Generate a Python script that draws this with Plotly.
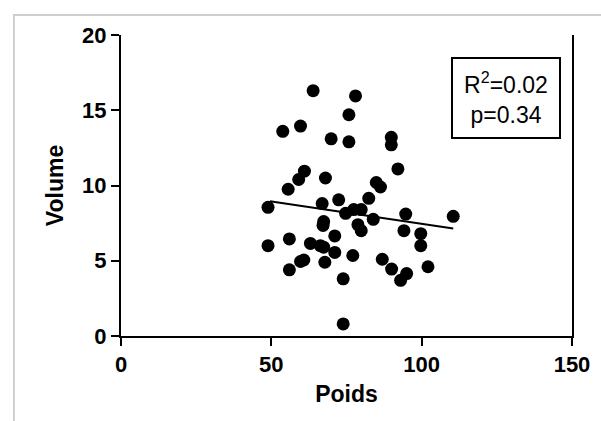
import plotly.graph_objects as go

# Scatter data (Poids, Volume)
poids = [63.9, 78.0, 75.8, 53.8, 59.7, 69.9, 75.8, 89.9, 89.9, 92.1,
         61.0, 59.1, 68.0, 55.6, 84.9, 86.3, 72.4, 82.4, 66.9, 48.9,
         74.7, 77.4, 79.9, 83.9, 94.7, 110.5, 67.4, 67.2, 78.8, 79.9,
         94.1, 99.7, 99.7, 71.1, 48.9, 56.0, 63.0, 66.3, 67.4, 71.1,
         77.1, 60.8, 59.7, 67.8, 56.0, 86.9, 90.0, 93.0, 95.0, 102.1,
         73.9, 73.9]
volume = [16.3, 15.95, 14.7, 13.6, 13.95, 13.1, 12.9, 13.2, 12.7, 11.1,
          10.95, 10.4, 10.5, 9.75, 10.2, 9.9, 9.05, 9.15, 8.8, 8.55,
          8.15, 8.4, 8.4, 7.75, 8.1, 7.95, 7.6, 7.35, 7.4, 7.0,
          7.0, 6.8, 6.0, 6.65, 6.0, 6.45, 6.15, 6.0, 5.9, 5.55,
          5.35, 5.05, 4.95, 4.9, 4.4, 5.1, 4.45, 3.7, 4.15, 4.6,
          3.8, 0.8]

# Regression line endpoints
fit_x = [49.5, 110.5]
fit_y = [8.95, 7.15]

x_ticks = [0, 50, 100, 150]
y_ticks = [0, 5, 10, 15, 20]
stats_text = "R<sup>2</sup>=0.02<br>p=0.34"

FONT = "Liberation Sans"

fig = go.Figure()
fig.add_trace(go.Scatter(x=poids, y=volume, mode="markers",
                         marker=dict(color="black", size=13, line=dict(width=0)),
                         showlegend=False, hoverinfo="skip"))
fig.add_trace(go.Scatter(x=fit_x, y=fit_y, mode="lines",
                         line=dict(color="black", width=2),
                         showlegend=False, hoverinfo="skip"))

fig.update_layout(
    width=601, height=421,
    margin=dict(l=121, r=29, t=35, b=85, pad=0),
    paper_bgcolor="white", plot_bgcolor="white",
    font=dict(family=FONT, color="black"),
    xaxis=dict(range=[0, 150], tickvals=x_ticks, showgrid=False, zeroline=False,
               showline=True, linecolor="black", linewidth=2,
               ticks="outside", ticklen=8, tickwidth=2, tickcolor="black",
               tickfont=dict(family=FONT, size=22, weight="bold", color="black"),
               title=dict(text="Poids", font=dict(family=FONT, size=23, weight="bold"),
                          standoff=9)),
    yaxis=dict(range=[0, 20], tickvals=y_ticks, showgrid=False, zeroline=False,
               showline=True, linecolor="black", linewidth=2, mirror=True,
               ticks="outside", ticklen=8, tickwidth=2, tickcolor="black",
               tickfont=dict(family=FONT, size=22, weight="bold", color="black"),
               title=dict(text="Volume", font=dict(family=FONT, size=23, weight="bold"),
                          standoff=12)),
    annotations=[dict(x=128, y=15.8, xref="x", yref="y", text=stats_text,
                      showarrow=False, xanchor="center", yanchor="middle",
                      font=dict(family=FONT, size=23, color="black"),
                      bordercolor="black", borderwidth=2, borderpad=3,
                      width=100, height=72, align="center", bgcolor="white")],
    shapes=[dict(type="rect", xref="paper", yref="paper",
                 x0=-0.2374, x1=1.2, y0=-0.5, y1=1.0665,
                 line=dict(color="#cfcfcf", width=2), layer="below")],
)

fig.write_html("out.html")
